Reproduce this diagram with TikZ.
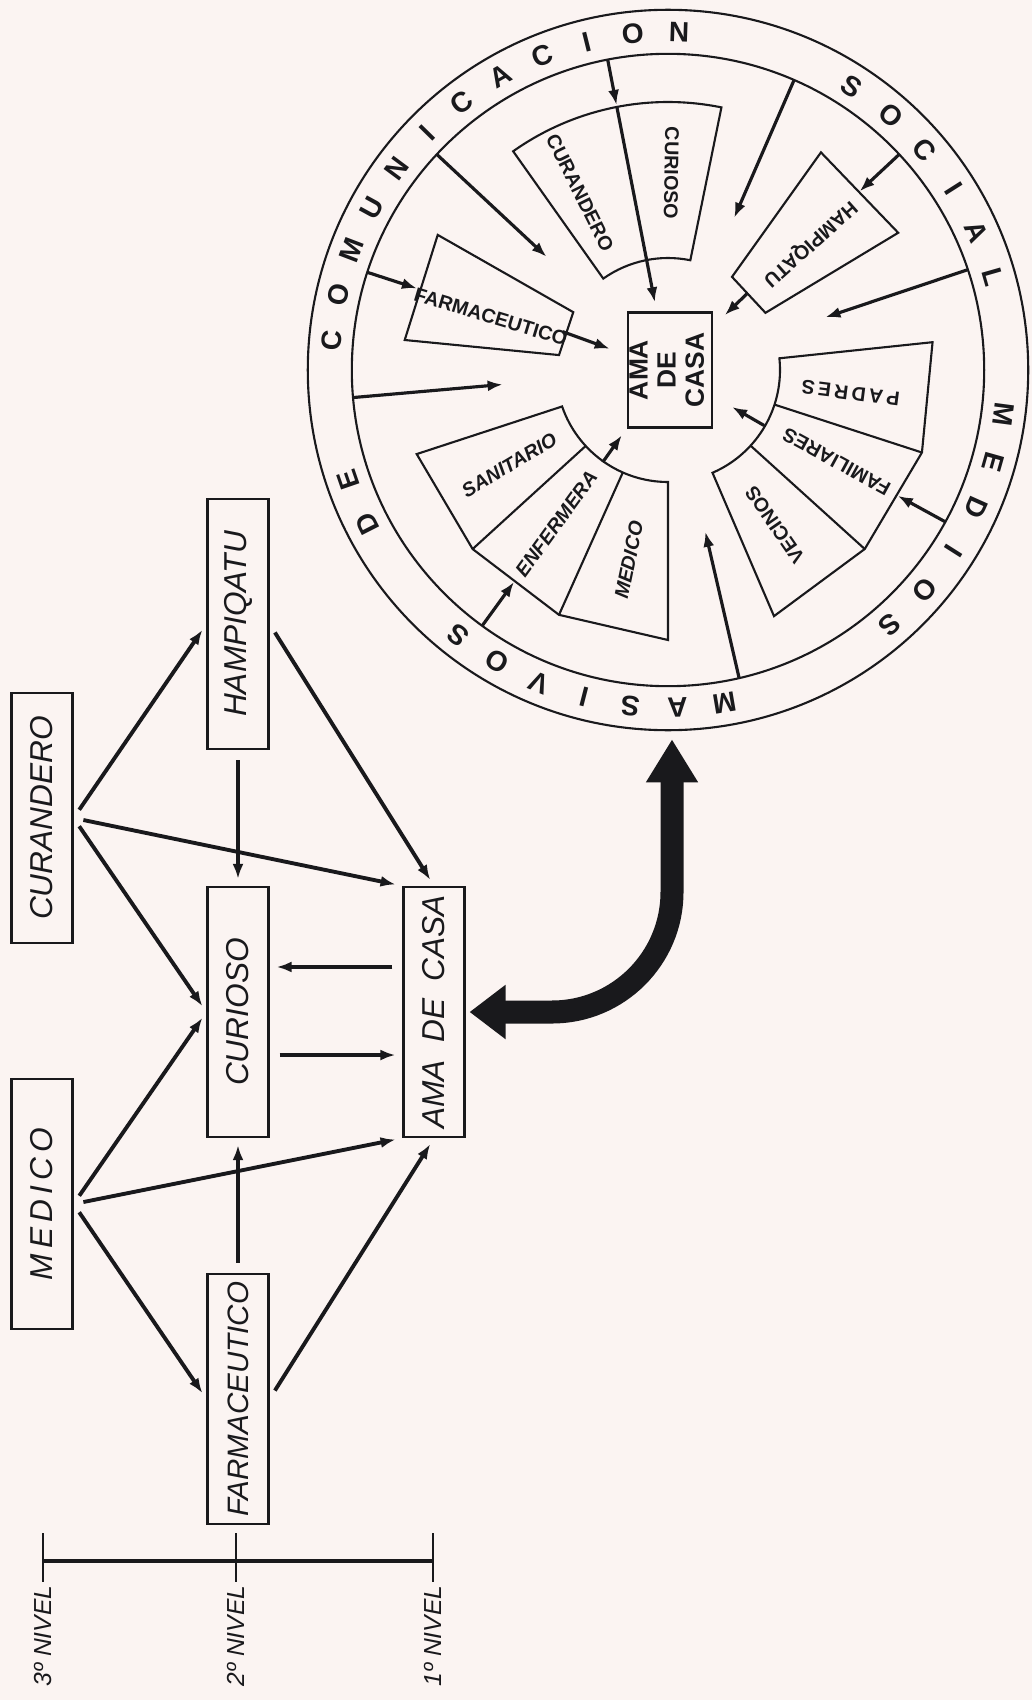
\documentclass[tikz,border=0pt]{standalone}
\usepackage{fontspec}
\setmainfont{Liberation Sans}
\usepackage{graphicx}
\usetikzlibrary{arrows.meta,calc}
\definecolor{paper}{RGB}{251,244,242}
\definecolor{ink}{RGB}{25,25,28}
\tikzset{
    actor/.style = {
        draw=ink,
        shape=rectangle,
        minimum width=0.61cm,
        minimum height=2.5cm,
        inner sep=0pt,
        line width=0.6pt,
        text=ink,
        font=\itshape\fontsize{9}{10}\selectfont
    },
    hub/.style = {
        draw=ink,
        shape=rectangle,
        minimum width=0.84cm,
        minimum height=1.15cm,
        inner sep=0pt,
        line width=0.7pt,
        text=ink,
        font=\bfseries\fontsize{7.5}{8}\selectfont
    },
    rim/.style = {
        draw=ink,
        shape=circle,
        inner sep=0pt,
        line width=0.6pt
    },
    wheel/.style = {draw=ink, line width=0.6pt},
    link/.style = {->, draw=ink, line width=1.1pt, shorten >=0.7mm, shorten <=1mm},
    spoke/.style = {->, draw=ink, line width=0.9pt},
    letter/.style = {text=ink, inner sep=0pt, font=\bfseries\fontsize{8}{8}\selectfont},
    agent/.style = {text=ink, inner sep=0pt, font=\bfseries\fontsize{5.6}{6}\selectfont},
    tier/.style = {text=ink, inner sep=0pt, font=\itshape\fontsize{7}{8}\selectfont},
    bigarrow/.style = {
        draw=ink,
        line width=2.3mm,
        {Triangle[length=3.6mm,width=5.2mm]}-{Triangle[length=4.3mm,width=4.9mm]}
    },
    >={Latex[length=1.5mm,width=1.1mm]},
}

\begin{document}
\begin{tikzpicture}[x=0.01cm, y=-0.01cm]
            \fill[paper] (0,0) rectangle (1032,1700);
            \useasboundingbox (0,0) rectangle (1032,1700);

            % niveles
            \node[actor] (curandero) at (42,818) {\rotatebox{90}{CURANDERO}};
            \node[actor] (medico) at (42,1204) {\rotatebox{90}{M\,E\,D\,I\,C\,O}};
            \node[actor] (hampiqatu) at (238,624) {\rotatebox{90}{HAMPIQATU}};
            \node[actor] (curioso) at (238,1012) {\rotatebox{90}{CURIOSO}};
            \node[actor, font=\itshape\fontsize{8.4}{10}\selectfont] (farmaceutico) at (238,1399)
                {\rotatebox{90}{FARMACEUTICO}};
            \node[actor] (ama) at (434,1012) {\rotatebox{90}{AMA\hspace{0.55em}DE\hspace{0.55em}CASA}};

            \path[link] (curandero.east) -- (hampiqatu.west);
            \path[link] (curandero.east) -- (curioso.west);
            \path[link] (curandero.east) -- (ama.north west);
            \path[link] (medico.east) -- (curioso.west);
            \path[link] (medico.east) -- (ama.south west);
            \path[link] (medico.east) -- (farmaceutico.west);
            \path[link] (hampiqatu.east) -- (ama.north);
            \path[link] (hampiqatu.south) -- (curioso.north);
            \path[link] (farmaceutico.north) -- (curioso.south);
            \path[link] (farmaceutico.east) -- (ama.south);
            \path[link] ([yshift=4.5mm]ama.west) -- ([yshift=4.5mm]curioso.east);
            \path[link] ([yshift=-4.3mm]curioso.east) -- ([yshift=-4.3mm]ama.west);

            \coordinate (niv3) at (43,1561);
            \coordinate (niv2) at (236,1561);
            \coordinate (niv1) at (433,1561);
            \draw[ink, line width=1.4pt] (niv3) -- (niv1);
            \foreach \n in {niv3,niv2,niv1}
                \draw[ink, line width=0.7pt] ($(\n)+(0,-28)$) -- ($(\n)+(0,21)$);
            \node[tier, anchor=north] (lab3) at ($(niv3)+(0,24)$) {\rotatebox{90}{3º NIVEL}};
            \node[tier, anchor=north] (lab2) at ($(niv2)+(0,24)$) {\rotatebox{90}{2º NIVEL}};
            \node[tier, anchor=north] (lab1) at ($(niv1)+(0,24)$) {\rotatebox{90}{1º NIVEL}};

            % rueda de los medios
            \begin{scope}[shift={(668,370)}, y=0.01cm]
            \node[rim, minimum size=7.2cm] (ring) at (0,0) {};
            \node[rim, minimum size=6.32cm] (inring) at (0,0) {};
            \node[hub] (hub) at (2,0) {\rotatebox{90}{\begin{tabular}{@{}c@{}}AMA\\DE\\CASA\end{tabular}}};

            \draw[wheel] (78.5:112) -- (78.5:268) arc[start angle=78.5, end angle=125.3, radius=268]
                -- (125.3:112) arc[start angle=125.3, end angle=78.5, radius=112] -- cycle;
            \draw[wheel] (148.6:111) -- (149.6:267) -- (173.5:265) -- (172.2:110) -- cycle;
            \draw[wheel] (30.4:113) -- (30.8:268) -- (54.9:266) -- (55.5:113) -- cycle;
            \draw[wheel] (199:112) -- (198.5:265) -- (222.5:265) -- (246:268) -- (270:270)
                -- (270:112) arc[start angle=270, end angle=199, radius=112] -- cycle;
            \draw[wheel] (222.7:112) -- (222.5:265);
            \draw[wheel] (246.2:112) -- (246:268);
            \draw[wheel] (6:112) -- (6:266) -- (-18:267) -- (-42.3:266) -- (-66.7:268)
                -- (-66.6:112) arc[start angle=-66.6, end angle=6, radius=112] -- cycle;
            \draw[wheel] (-18:112) -- (-18:267);
            \draw[wheel] (-42.5:112) -- (-42.3:266);

            \node[agent, rotate=296.4] (tcurandero) at (116.4:198) {CURANDERO};
            \node[agent, rotate=269] (tcurioso) at (89:197) {CURIOSO};
            \node[agent, rotate=343.3] (tfarmaceutico) at (163.3:185) {FARMACEUTICO};
            \node[agent, rotate=221.8] (thampiqatu) at (41.8:190) {HAMPIQATU};
            \node[agent, rotate=172.8] (tpadres) at (-7.2:184) {P\,A\,D\,R\,E\,S};
            \node[agent, rotate=151.4] (tfamiliares) at (-28.6:192) {FAMILIARES};
            \node[agent, rotate=124.6] (tvecinos) at (-55.4:188) {VECINOS};
            \node[agent, rotate=78.4] (tmedico) at (258.4:194) {\itshape MEDICO};
            \node[agent, rotate=54] (tenfermera) at (234:190) {\itshape ENFERMERA};
            \node[agent, rotate=30.9] (tsanitario) at (210.9:185) {\itshape SANITARIO};

            \foreach \a in {185,137,66.5,18.5,-77}
                \draw[spoke] (\a:316) -- (\a:166);
            \foreach \a/\r in {162/264,101/270,43/262,-28.7/262,234/262}
                \draw[spoke] (\a:316) -- (\a:\r);
            \foreach \a/\r/\s in {160/112/62,101/268/69,44/111/79,-30/111/74,234.7/113/80}
                \draw[spoke] (\a:\r) -- (\a:\s);

            \foreach \ch [count=\i from 0] in {D,E} {
                \pgfmathsetmacro\ang{207-8*\i}
                \node[letter, rotate=\ang-90] (de\i) at (\ang:338) {\ch};
            }
            \foreach \ch [count=\i from 0] in {C,O,M,U,N,I,C,A,C,I,O,N} {
                \pgfmathsetmacro\ang{175-7.9*\i}
                \node[letter, rotate=\ang-90] (com\i) at (\ang:338) {\ch};
            }
            \foreach \ch [count=\i from 0] in {S,O,C,I,A,L} {
                \pgfmathsetmacro\ang{57-8.2*\i}
                \node[letter, rotate=\ang-90] (soc\i) at (\ang:338) {\ch};
            }
            \foreach \ch [count=\i from 0] in {M,E,D,I,O,S} {
                \pgfmathsetmacro\ang{-7.5-8.3*\i}
                \node[letter, rotate=\ang-90] (med\i) at (\ang:338) {\ch};
            }
            \foreach \ch [count=\i from 0] in {M,A,S,I,V,O,S} {
                \pgfmathsetmacro\ang{-80.4-8*\i}
                \node[letter, rotate=\ang-90] (mas\i) at (\ang:338) {\ch};
            }
            \end{scope}

            \coordinate (masstip) at ($(ring.south)+(4,8)$);
            \draw[bigarrow, rounded corners=1.2cm] ($(ama.east)+(4,0)$) -| (masstip);
        \end{tikzpicture}
\end{document}
